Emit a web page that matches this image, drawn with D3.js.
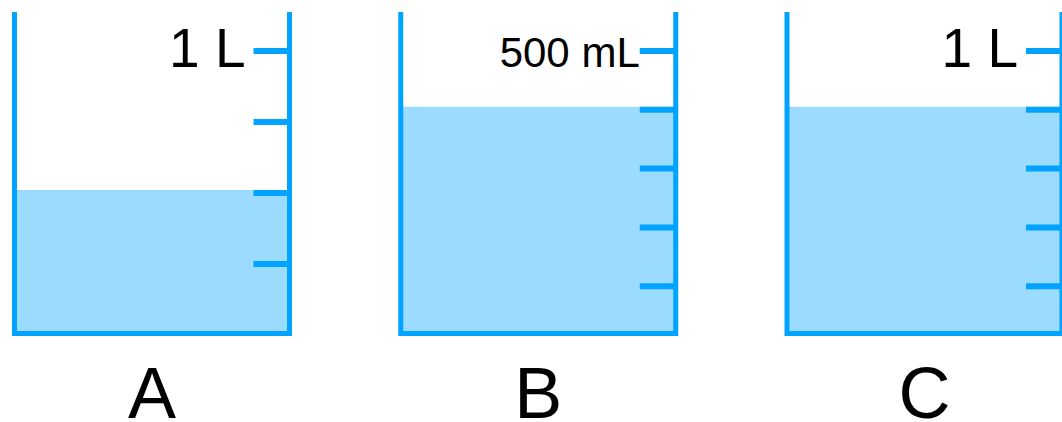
<!DOCTYPE html>
<html>
<head>
<meta charset="utf-8">
<script src="https://d3js.org/d3.v7.min.js"></script>
<style>
  body { margin: 0; background: #fff; }
  text { font-family: "Liberation Sans", Arial, sans-serif; }
</style>
</head>
<body>
<div id="beakers"></div>
<script>
// beakers and what they hold (mL)
var names = ["A", "B", "C"];
var topLabels = ["1 L", "500 mL", "1 L"];
var capacities = [1000, 500, 1000];
var tickValues = [
  [250, 500, 750, 1000],
  [100, 200, 300, 400, 500],
  [200, 400, 600, 800, 1000]
];
var water = [500, 400, 800];

var width = 1062;
var height = 422;
var wallColor = "#00a3ff";
var waterColor = "#9bdbfd";

// layout
var rimY = 12;
var bottomY = 333.5;
var topTick = 51;
var zeroY = [335, 345, 345];
var labelGap = [8, 0, 8];
var tickLen = 36;

var svg = d3.select("#beakers")
  .append("svg")
  .attr("width", width)
  .attr("height", height);

var x = d3.scaleBand()
  .domain(names)
  .range([14.5, 1062])
  .paddingInner(1 - 275 / 386.25);

var bw = x.bandwidth();

names.forEach(function(name, i) {
  var y = d3.scaleLinear()
    .domain([0, capacities[i]])
    .range([zeroY[i], topTick]);
  var left = x(name);
  var right = left + bw;
  var g = svg.append("g");

  g.append("rect")
    .attr("x", left)
    .attr("y", y(water[i]) - 3)
    .attr("width", bw)
    .attr("height", bottomY - (y(water[i]) - 3))
    .style("fill", waterColor);

  g.selectAll("line.tick")
    .data(tickValues[i])
    .enter()
    .append("line")
    .attr("class", "tick")
    .attr("x1", right - tickLen)
    .attr("x2", right)
    .attr("y1", function(d) { return y(d); })
    .attr("y2", function(d) { return y(d); })
    .style("stroke", wallColor)
    .style("stroke-width", 6);

  g.append("path")
    .attr("d", "M" + left + "," + rimY + "V" + bottomY + "H" + right + "V" + rimY)
    .style("fill", "none")
    .style("stroke", wallColor)
    .style("stroke-width", 5)
    .style("stroke-linejoin", "miter");

  var maxTick = d3.max(tickValues[i]);
  g.append("text")
    .attr("x", right - tickLen - labelGap[i])
    .attr("y", y(maxTick) + 16)
    .attr("text-anchor", "end")
    .style("font-size", i == 1 ? "42px" : "55px")
    .style("fill", "#000")
    .text(topLabels[i]);

  g.append("text")
    .attr("x", left + bw / 2)
    .attr("y", 418)
    .attr("text-anchor", "middle")
    .style("font-size", "72px")
    .style("fill", "#000")
    .text(name);
});
</script>
</body>
</html>
